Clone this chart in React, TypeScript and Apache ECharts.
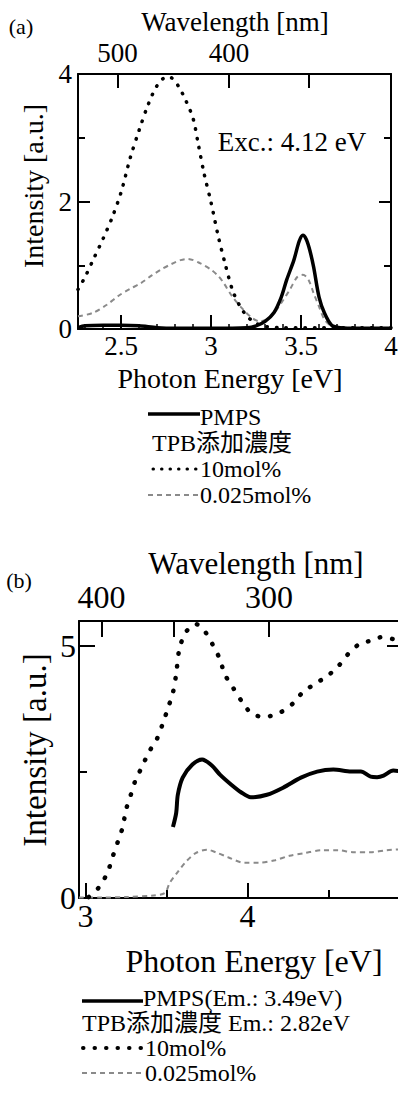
import React, { useEffect, useRef } from "react";
import * as echarts from "echarts";

const FONT = "'Liberation Serif', 'Times New Roman', 'Noto Sans CJK JP', serif";
const HC = 1239.84; // eV·nm
const toEv = (nm: number) => HC / nm;

// ---------- Panel (a): emission spectra (Exc. 4.12 eV) ----------
const aEnergyTicks = [2.5, 3, 3.5, 4];
const aEnergyMinor = [2.3, 2.4, 2.6, 2.7, 2.8, 2.9, 3.1, 3.2, 3.3, 3.4, 3.6, 3.7, 3.8, 3.9];
const aWavelengthTicks = [500, 400, 350];
const aWavelengthLabels = [500, 400];

const aPmpsX = [2.26, 2.3, 2.4, 2.5, 2.6, 2.7, 2.8, 3.0, 3.2, 3.25, 3.3, 3.35, 3.39, 3.42, 3.46, 3.49, 3.51, 3.53, 3.55, 3.57, 3.6, 3.63, 3.67, 3.72, 3.8, 4.0];
const aPmpsY = [0.02, 0.05, 0.06, 0.06, 0.05, 0.02, 0.01, 0.01, 0.02, 0.05, 0.12, 0.26, 0.5, 0.77, 1.08, 1.38, 1.47, 1.4, 1.22, 0.97, 0.5, 0.25, 0.06, 0.02, 0.01, 0.01];

const a10X = [2.26, 2.3, 2.35, 2.4, 2.45, 2.5, 2.55, 2.6, 2.65, 2.7, 2.75, 2.78, 2.82, 2.86, 2.9, 2.93, 2.96, 3.0, 3.04, 3.08, 3.12, 3.16, 3.2, 3.25, 3.3, 3.4, 3.6, 3.8, 4.0];
const a10Y = [0.62, 0.82, 1.12, 1.42, 1.75, 2.15, 2.68, 3.12, 3.52, 3.82, 3.95, 3.94, 3.8, 3.58, 3.3, 2.88, 2.45, 1.98, 1.45, 1.0, 0.6, 0.36, 0.2, 0.09, 0.04, 0.02, 0.02, 0.02, 0.02];

const a0025X = [2.26, 2.34, 2.42, 2.49, 2.55, 2.61, 2.67, 2.72, 2.78, 2.83, 2.87, 2.94, 3.0, 3.04, 3.07, 3.12, 3.18, 3.23, 3.27, 3.31, 3.35, 3.4, 3.44, 3.48, 3.51, 3.54, 3.57, 3.6, 3.63, 3.67, 3.75, 4.0];
const a0025Y = [0.2, 0.25, 0.38, 0.53, 0.63, 0.72, 0.84, 0.93, 1.02, 1.08, 1.1, 1.03, 0.93, 0.83, 0.72, 0.5, 0.3, 0.17, 0.12, 0.15, 0.25, 0.45, 0.63, 0.82, 0.85, 0.78, 0.56, 0.35, 0.15, 0.05, 0.02, 0.01];

// ---------- Panel (b): excitation spectra ----------
const bEnergyTicks = [3, 4];
const bEnergyMinor = [3.5, 4.5];
const bWavelengthTicks = [400, 350, 300];
const bWavelengthLabels = [400, 300];
const bIntensityTicks = [0, 5];
const bIntensityMinor = [2.5];

const b10X = [3.02, 3.08, 3.135, 3.17, 3.2, 3.23, 3.25, 3.28, 3.31, 3.35, 3.39, 3.44, 3.48, 3.51, 3.54, 3.56, 3.58, 3.62, 3.68, 3.74, 3.79, 3.83, 3.86, 3.91, 3.97, 4.03, 4.11, 4.2, 4.28, 4.34, 4.42, 4.49, 4.56, 4.62, 4.69, 4.75, 4.83, 4.9, 4.96];
const b10Y = [0.02, 0.2, 0.5, 0.84, 1.12, 1.41, 1.75, 2.05, 2.35, 2.61, 2.89, 3.15, 3.49, 3.78, 4.08, 4.45, 4.95, 5.28, 5.44, 5.28, 5.0, 4.74, 4.44, 4.18, 3.88, 3.65, 3.6, 3.68, 3.86, 4.08, 4.26, 4.4, 4.6, 4.84, 5.04, 5.1, 5.18, 5.14, 5.1];

const bPmpsX = [3.54, 3.56, 3.57, 3.6, 3.66, 3.72, 3.78, 3.83, 3.9, 3.96, 4.02, 4.12, 4.22, 4.33, 4.43, 4.53, 4.64, 4.7, 4.76, 4.8, 4.84, 4.9, 4.96];
const bPmpsY = [1.41, 1.69, 2.05, 2.39, 2.65, 2.75, 2.63, 2.45, 2.25, 2.1, 2.0, 2.05, 2.19, 2.39, 2.51, 2.55, 2.51, 2.51, 2.41, 2.4, 2.43, 2.53, 2.51];

const b0025X = [2.96, 3.1, 3.25, 3.42, 3.49, 3.52, 3.57, 3.62, 3.68, 3.75, 3.81, 3.88, 3.98, 4.07, 4.17, 4.26, 4.35, 4.46, 4.56, 4.65, 4.76, 4.86, 4.96];
const b0025Y = [0.01, 0.01, 0.02, 0.05, 0.1, 0.3, 0.52, 0.72, 0.89, 0.96, 0.9, 0.81, 0.7, 0.7, 0.75, 0.84, 0.89, 0.95, 0.95, 0.91, 0.91, 0.95, 0.97];

const pairs = (xs: number[], ys: number[]) => xs.map((x, i) => [x, ys[i]]);

const BLACK = "#000";
const GRAY = "#8a8a8a";
const axisLineStyle = { color: BLACK, width: 2 };

function xAxisCfg(o: any) {
  return {
    type: "value",
    gridIndex: o.grid,
    position: o.position,
    min: o.min,
    max: o.max,
    splitLine: { show: false },
    axisLine: { show: o.line !== false, onZero: false, lineStyle: axisLineStyle },
    axisTick: {
      show: true,
      inside: true,
      length: o.tickLen,
      customValues: o.ticks,
      lineStyle: { color: BLACK, width: o.tickWidth || 2 },
    },
    axisLabel: o.labels
      ? {
          show: true,
          customValues: o.labels,
          formatter: o.formatter,
          fontFamily: FONT,
          fontSize: o.fontSize,
          color: BLACK,
          margin: o.margin,
        }
      : { show: false },
  };
}

function yAxisCfg(o: any) {
  return {
    type: "value",
    gridIndex: o.grid,
    position: o.position,
    min: o.min,
    max: o.max,
    splitLine: { show: false },
    axisLine: { show: o.line !== false, onZero: false, lineStyle: axisLineStyle },
    axisTick: {
      show: true,
      inside: true,
      length: o.tickLen,
      customValues: o.ticks,
      lineStyle: { color: BLACK, width: 2 },
    },
    axisLabel: o.labels
      ? {
          show: true,
          customValues: o.labels,
          fontFamily: FONT,
          fontSize: o.fontSize,
          color: BLACK,
          margin: o.margin,
        }
      : { show: false },
  };
}

const txt = (text: string, x: number, y: number, size: number, extra: any = {}) => ({
  type: "text",
  x,
  y,
  rotation: extra.rotation || 0,
  style: {
    text,
    fill: BLACK,
    font: `${size}px ${FONT}`,
    textAlign: extra.align || "center",
    textVerticalAlign: "middle",
    verticalAlign: "middle",
  },
});

const seg = (x1: number, y1: number, x2: number, y2: number, style: any) => ({
  type: "line",
  shape: { x1, y1, x2, y2 },
  style,
});

const solidStyle = { stroke: BLACK, lineWidth: 3.5 };
const dotStyleA = { stroke: BLACK, lineWidth: 3, lineDash: [0.5, 8], lineCap: "round" };
const dotStyleB = { stroke: BLACK, lineWidth: 4, lineDash: [0.5, 11], lineCap: "round" };
const dashStyle = { stroke: GRAY, lineWidth: 2, lineDash: [5, 4] };

export default function App() {
  const ref = useRef<HTMLDivElement>(null);

  useEffect(() => {
    if (!ref.current) return;
    const chart = echarts.init(ref.current, undefined, { renderer: "svg" });

    const fmtEnergy = (v: number) => String(v);
    const fmtNm = (v: number) => String(Math.round(HC / v));

    const option: any = {
      animation: false,
      backgroundColor: "#fff",
      grid: [
        { left: 78, top: 74, width: 313, height: 255, containLabel: false, outerBoundsMode: "none" },
        { left: 79, top: 621, width: 324, height: 277, containLabel: false, outerBoundsMode: "none" },
      ],
      xAxis: [
        xAxisCfg({ grid: 0, position: "bottom", min: 2.26, max: 4.0, tickLen: 14, ticks: aEnergyTicks, labels: aEnergyTicks, formatter: fmtEnergy, fontSize: 27, margin: 3 }),
        xAxisCfg({ grid: 0, position: "top", min: 2.26, max: 4.0, tickLen: 14, ticks: aWavelengthTicks.map(toEv), labels: aWavelengthLabels.map(toEv), formatter: fmtNm, fontSize: 27, margin: 8 }),
        xAxisCfg({ grid: 0, position: "bottom", min: 2.26, max: 4.0, tickLen: 5, ticks: aEnergyMinor, line: false, tickWidth: 1.5 }),
        xAxisCfg({ grid: 1, position: "bottom", min: 2.96, max: 4.96, tickLen: 15, ticks: bEnergyTicks, labels: bEnergyTicks, formatter: fmtEnergy, fontSize: 32, margin: 2 }),
        xAxisCfg({ grid: 1, position: "top", min: 2.96, max: 4.96, tickLen: 16, ticks: bWavelengthTicks.map(toEv), labels: bWavelengthLabels.map(toEv), formatter: fmtNm, fontSize: 32, margin: 8 }),
        xAxisCfg({ grid: 1, position: "bottom", min: 2.96, max: 4.96, tickLen: 8, ticks: bEnergyMinor, line: false }),
      ],
      yAxis: [
        yAxisCfg({ grid: 0, position: "left", min: 0, max: 4, tickLen: 12, ticks: [0, 2, 4], labels: [0, 2, 4], fontSize: 27, margin: 6 }),
        yAxisCfg({ grid: 0, position: "right", min: 0, max: 4, tickLen: 12, ticks: [0, 2, 4] }),
        yAxisCfg({ grid: 0, position: "left", min: 0, max: 4, tickLen: 7, ticks: [1, 3], line: false }),
        yAxisCfg({ grid: 0, position: "right", min: 0, max: 4, tickLen: 7, ticks: [1, 3], line: false }),
        yAxisCfg({ grid: 1, position: "left", min: 0, max: 5.5, tickLen: 16, ticks: bIntensityTicks, labels: bIntensityTicks, fontSize: 32, margin: 3 }),
        yAxisCfg({ grid: 1, position: "right", min: 0, max: 5.5, tickLen: 16, ticks: bIntensityTicks }),
        yAxisCfg({ grid: 1, position: "left", min: 0, max: 5.5, tickLen: 8, ticks: bIntensityMinor, line: false }),
      ],
      series: [
        {
          name: "0.025mol%", type: "line", xAxisIndex: 0, yAxisIndex: 0, showSymbol: false, smooth: 0.3,
          data: pairs(a0025X, a0025Y), lineStyle: { color: GRAY, width: 2, type: [5, 4] },
        },
        {
          name: "10mol%", type: "line", xAxisIndex: 0, yAxisIndex: 0, showSymbol: false, smooth: 0.3,
          data: pairs(a10X, a10Y), lineStyle: { color: BLACK, width: 3.5, type: [0.5, 9], cap: "round" },
        },
        {
          name: "PMPS", type: "line", xAxisIndex: 0, yAxisIndex: 0, showSymbol: false, smooth: 0.3,
          data: pairs(aPmpsX, aPmpsY), lineStyle: { color: BLACK, width: 3.5 },
        },
        {
          name: "0.025mol% (b)", type: "line", xAxisIndex: 3, yAxisIndex: 4, showSymbol: false, smooth: 0.3,
          data: pairs(b0025X, b0025Y), lineStyle: { color: GRAY, width: 2, type: [5, 4] },
        },
        {
          name: "10mol% (b)", type: "line", xAxisIndex: 3, yAxisIndex: 4, showSymbol: false, smooth: 0.3,
          data: pairs(b10X, b10Y), lineStyle: { color: BLACK, width: 4.5, type: [0.5, 12], cap: "round" },
        },
        {
          name: "PMPS (b)", type: "line", xAxisIndex: 3, yAxisIndex: 4, showSymbol: false, smooth: 0.3,
          data: pairs(bPmpsX, bPmpsY), lineStyle: { color: BLACK, width: 4 },
        },
      ],
      graphic: [
        // panel (a) texts
        txt("(a)", 21, 26, 22),
        txt("Wavelength [nm]", 235, 22, 27),
        txt("Intensity [a.u.]", 33, 186, 28, { rotation: Math.PI / 2 }),
        txt("Photon Energy [eV]", 230, 378, 28),
        txt("Exc.: 4.12 eV", 292, 142, 27),
        // panel (a) legend
        seg(148, 414, 200, 414, solidStyle),
        txt("PMPS", 200, 417, 24, { align: "left" }),
        txt("TPB添加濃度", 152, 443, 24, { align: "left" }),
        seg(153, 469, 200, 469, dotStyleA),
        txt("10mol%", 200, 469, 24, { align: "left" }),
        seg(148, 495, 200, 495, dashStyle),
        txt("0.025mol%", 200, 495, 24, { align: "left" }),
        // panel (b) texts
        txt("(b)", 19, 580, 22),
        txt("Wavelength [nm]", 256, 563, 31),
        txt("Intensity [a.u.]", 35, 750, 33, { rotation: Math.PI / 2 }),
        txt("Photon Energy [eV]", 254, 961, 32),
        // panel (b) legend
        seg(82, 1001, 143, 1001, solidStyle),
        txt("PMPS(Em.: 3.49eV)", 143, 998, 24, { align: "left" }),
        txt("TPB添加濃度 Em.: 2.82eV", 82, 1023, 24, { align: "left" }),
        seg(83, 1048, 145, 1048, dotStyleB),
        txt("10mol%", 145, 1048, 24, { align: "left" }),
        seg(82, 1073, 145, 1073, dashStyle),
        txt("0.025mol%", 145, 1073, 24, { align: "left" }),
      ],
    };

    chart.setOption(option);
    return () => chart.dispose();
  }, []);

  return (
    <div
      ref={ref}
      style={{ position: "absolute", left: 0, top: 0, width: 398, height: 1102, background: "#fff" }}
    />
  );
}
